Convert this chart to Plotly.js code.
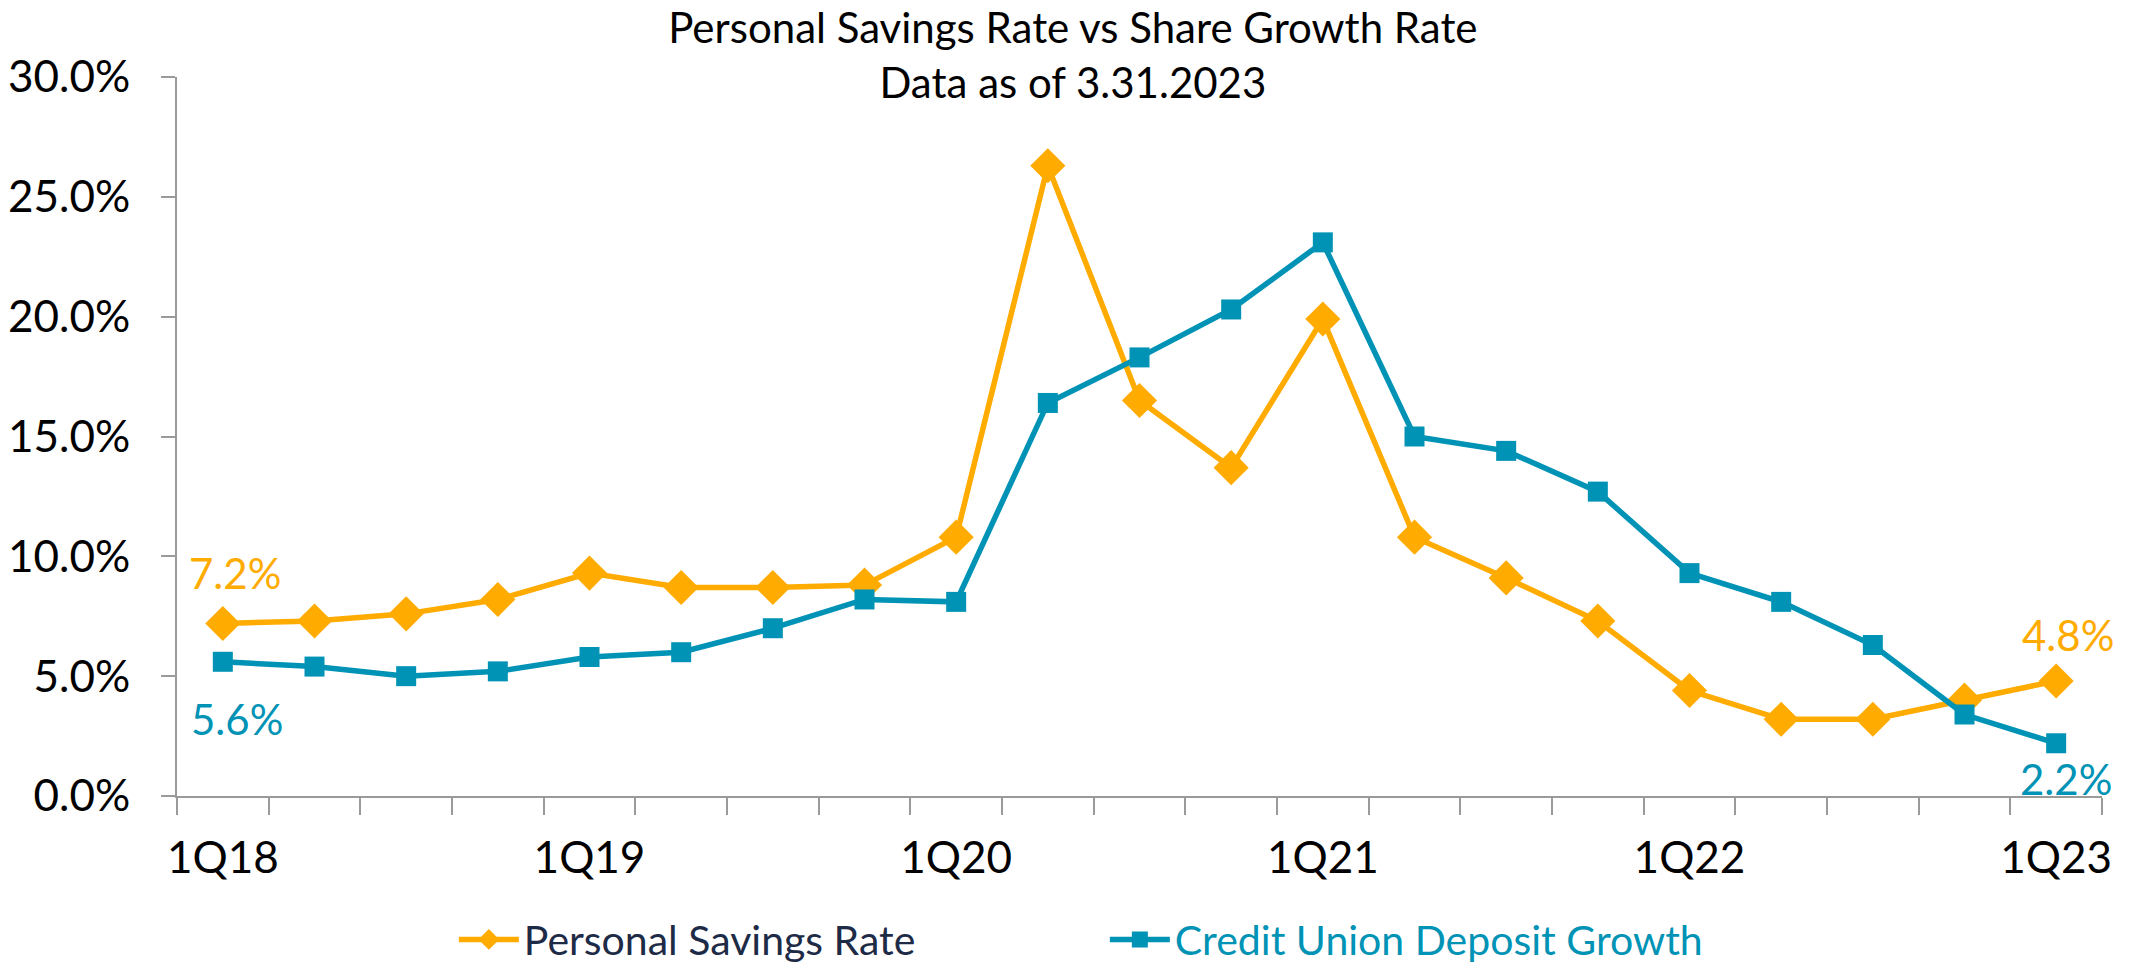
<!DOCTYPE html>
<html>
<head>
<meta charset="utf-8">
<script src="https://cdn.plot.ly/plotly-3.0.1.min.js"></script>
<style>html,body{margin:0;padding:0;background:#fff;}#chart{width:2133px;height:964px;}</style>
</head>
<body>
<div id="chart"></div>
<script>
const quarters = ['1Q18','2Q18','3Q18','4Q18','1Q19','2Q19','3Q19','4Q19','1Q20','2Q20','3Q20','4Q20','1Q21','2Q21','3Q21','4Q21','1Q22','2Q22','3Q22','4Q22','1Q23'];
const tickLabels = ['1Q18','','','','1Q19','','','','1Q20','','','','1Q21','','','','1Q22','','','','1Q23'];
const savingsRate = [7.2,7.3,7.6,8.2,9.3,8.7,8.7,8.8,10.8,26.3,16.5,13.7,19.9,10.8,9.1,7.3,4.4,3.2,3.2,4.0,4.8];
const depositGrowth = [5.6,5.4,5.0,5.2,5.8,6.0,7.0,8.2,8.1,16.4,18.3,20.3,23.1,15.0,14.4,12.7,9.3,8.1,6.3,3.4,2.2];
const yTicks = [0,5,10,15,20,25,30];

const ORANGE = '#FFAB00';
const TEAL = '#0093B5';
const FONT = 'Lato, "Open Sans", sans-serif';

const traces = [
  {
    x: quarters, y: savingsRate, type: 'scatter', mode: 'lines+markers',
    name: '<span style="color:#1E2B47">Personal Savings Rate</span>',
    line: {color: ORANGE, width: 5.5},
    marker: {symbol: 'diamond', size: 27, color: ORANGE}
  },
  {
    x: quarters, y: depositGrowth, type: 'scatter', mode: 'lines+markers',
    name: '<span style="color:' + TEAL + '">Credit Union Deposit Growth</span>',
    line: {color: TEAL, width: 5.5},
    marker: {symbol: 'square', size: 20, color: TEAL}
  }
];

const last = quarters.length - 1;
const annotations = [
  {x: quarters[0], y: savingsRate[0], text: savingsRate[0].toFixed(1) + '%', yshift: 50, xshift: 12, font: {color: ORANGE}},
  {x: quarters[0], y: depositGrowth[0], text: depositGrowth[0].toFixed(1) + '%', yshift: -57, xshift: 14, font: {color: TEAL}},
  {x: quarters[last], y: savingsRate[last], text: savingsRate[last].toFixed(1) + '%', yshift: 46, xshift: 12, font: {color: ORANGE}},
  {x: quarters[last], y: depositGrowth[last], text: depositGrowth[last].toFixed(1) + '%', yshift: -36, xshift: 10, font: {color: TEAL}}
].map(a => Object.assign({showarrow: false, xref: 'x', yref: 'y'}, a, {font: Object.assign({family: FONT, size: 42}, a.font)}));

const layout = {
  width: 2133, height: 964,
  paper_bgcolor: '#ffffff', plot_bgcolor: '#ffffff',
  margin: {l: 177, r: 31, t: 77, b: 168, autoexpand: false},
  font: {family: FONT, size: 40, color: '#000000'},
  title: {
    text: 'Personal Savings Rate vs Share Growth Rate<br>Data as of 3.31.2023',
    x: 0.503, xref: 'container', xanchor: 'center',
    y: 0.955, yref: 'container', yanchor: 'top',
    font: {family: FONT, size: 42, color: '#000000'}
  },
  showlegend: true,
  legend: {
    orientation: 'h', x: 0.482, xanchor: 'center', y: -0.2, yanchor: 'middle',
    font: {family: FONT, size: 41}, itemwidth: 60, traceorder: 'normal',
    entrywidth: 576, entrywidthmode: 'pixels'
  },
  xaxis: {
    type: 'category', range: [-0.5, quarters.length - 0.5],
    tickmode: 'array', tickvals: quarters, ticktext: tickLabels,
    tickson: 'boundaries', ticks: 'outside', ticklen: 17, tickwidth: 2, tickcolor: '#9A9A9A',
    showline: true, linecolor: '#9A9A9A', linewidth: 2, showgrid: false, zeroline: false,
    tickangle: 0, automargin: false,
    tickfont: {family: FONT, size: 44}, ticklabelstandoff: 22, fixedrange: true
  },
  yaxis: {
    range: [0, 30], tickmode: 'array', tickvals: yTicks, ticktext: yTicks.map(v => v.toFixed(1) + '%'),
    ticks: 'outside', ticklen: 14, tickwidth: 2, tickcolor: '#9A9A9A',
    showline: true, linecolor: '#9A9A9A', linewidth: 2, showgrid: false, zeroline: false,
    automargin: false,
    tickfont: {family: FONT, size: 44}, ticklabelstandoff: 22, fixedrange: true
  },
  annotations: annotations
};

Plotly.newPlot('chart', traces, layout, {displayModeBar: false, staticPlot: true});
</script>
</body>
</html>
